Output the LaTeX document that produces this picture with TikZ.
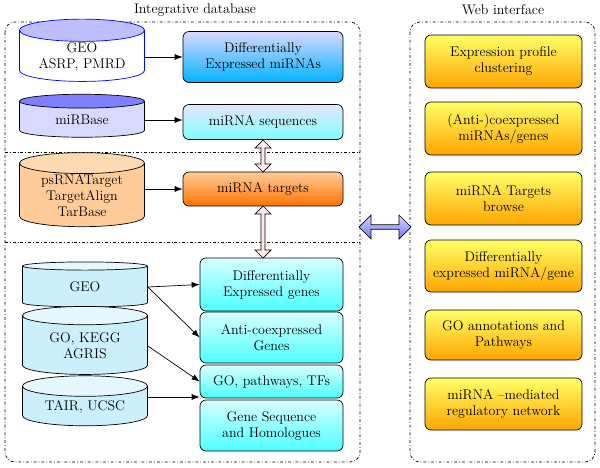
\documentclass[tikz,border=0pt]{standalone}
\usetikzlibrary{shapes.geometric,shapes.arrows,arrows.meta}
\begin{document}
\begin{tikzpicture}[x=1pt,y=-1pt,font=\fontsize{14}{16}\selectfont,line width=0.7pt,
 frame/.style={draw,dash dot,rounded corners=10pt},
 cyl/.style={cylinder,shape border rotate=90,draw,aspect=0.25,minimum width=125pt,align=center,cylinder uses custom fill,inner sep=1pt},
 box/.style={draw,rounded corners=6pt,align=center,minimum width=160pt,inner sep=1pt},
 gbox/.style={box,minimum width=143pt,top color=cyan!15,bottom color=cyan!70,draw=black},
 ybox/.style={draw,rounded corners=6pt,align=center,minimum width=157pt,top color=yellow!60,bottom color=orange!70!yellow,inner sep=1pt},
 arr/.style={-{Latex[length=8pt,width=6pt]}},
 dbl/.style={double arrow,draw,double arrow head extend=4pt,minimum width=16pt,inner sep=1pt,fill=red!8}]
\useasboundingbox (0,0) rectangle (600,467);
\node at (195,10) {Integrative database};
\node at (503,10) {Web interface};
\draw[frame] (5,22) rectangle (360,462);
\draw[frame] (410,22) rectangle (595,462);
\draw[dash dot] (5,152) -- (360,152);
\draw[dash dot] (5,242) -- (360,242);
% left column
\node[cyl,minimum height=49pt,cylinder body fill=white,cylinder end fill=blue!25,draw=blue] (c1) at (82,57) {GEO\\ASRP, PMRD};
\node[cyl,minimum height=43pt,cylinder body fill=blue!15,cylinder end fill=blue!50] (c2) at (82,120) {miRBase};
\node[cyl,minimum height=67pt,cylinder body fill=orange!40,cylinder end fill=orange!30] (c3) at (82,196) {psRNATarget\\TargetAlign\\TarBase};
\node[cyl,minimum height=45pt,cylinder body fill=cyan!20,cylinder end fill=cyan!10] (c4) at (85,287) {GEO};
\node[cyl,minimum height=68pt,cylinder body fill=cyan!20,cylinder end fill=cyan!10] (c5) at (85,346) {GO, KEGG\\AGRIS};
\node[cyl,minimum height=50pt,cylinder body fill=cyan!20,cylinder end fill=cyan!10] (c6) at (85,407) {TAIR, UCSC};
% boxes
\node[box,minimum height=51pt,top color=blue!15,bottom color=cyan!70!blue] (b1) at (263,57) {Differentially\\Expressed miRNAs};
\node[box,minimum height=35pt,top color=blue!10,bottom color=cyan!50] (b2) at (263,122) {miRNA sequences};
\node[box,minimum height=34pt,top color=orange!40,bottom color=orange!90!red] (b3) at (263,189) {miRNA targets};
\node[gbox,minimum height=53pt] (g1) at (271.5,284.5) {Differentially\\Expressed genes};
\node[gbox,minimum height=51pt] (g2) at (271.5,337.5) {Anti-coexpressed\\Genes};
\node[gbox,minimum height=33pt] (g3) at (271.5,381.5) {GO, pathways, TFs};
\node[gbox,minimum height=51pt] (g4) at (271.5,425.5) {Gene Sequence\\and Homologues};
\draw[arr] (c1.east) -- (c1.east -| b1.west);
\draw[arr] (c2.east) -- (c2.east -| b2.west);
\draw[arr] (c3.east|-b3) -- (b3.west);
\draw[arr] (c4.east) -- (g1.west);
\draw[arr] (c4.east) -- (g2.west);
\draw[arr] (c5.east) -- (g3.west);
\draw[arr] ([yshift=10pt]c6.east) -- ([yshift=10pt]c6.east -| g4.west);
% double arrows
\node[dbl,shape border rotate=90,minimum height=32pt] (d1) at (263,156) {};
\node[dbl,shape border rotate=90,minimum height=52pt] (d2) at (263,232) {};
\node[double arrow,draw,double arrow head extend=6pt,minimum width=24pt,minimum height=52pt,inner sep=1pt,top color=blue!15,bottom color=blue!55] (d3) at (385,227) {};
% web
\node[ybox,minimum height=53pt] (w1) at (503.5,61.5) {Expression profile\\clustering};
\node[ybox,minimum height=53pt] (w2) at (503.5,128.5) {(Anti-)coexpressed\\miRNAs/genes};
\node[ybox,minimum height=53pt] (w3) at (503.5,198.5) {miRNA Targets\\browse};
\node[ybox,minimum height=52pt] (w4) at (503.5,266) {Differentially\\expressed miRNA/gene};
\node[ybox,minimum height=50pt] (w5) at (503.5,335) {GO annotations and\\Pathways};
\node[ybox,minimum height=52pt] (w6) at (503.5,404) {miRNA –mediated\\regulatory network};
\end{tikzpicture}
\end{document}
